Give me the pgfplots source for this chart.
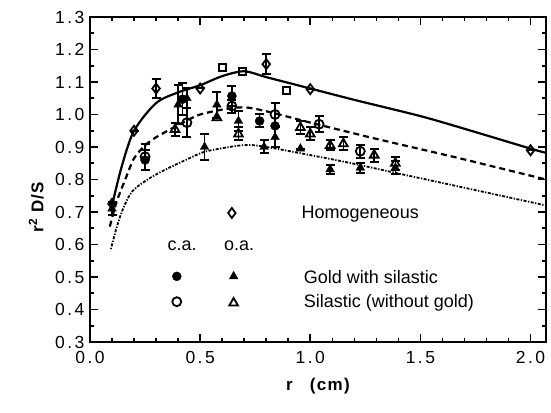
\documentclass[border=0pt]{standalone}
\usepackage{fontspec}
\setmainfont{Liberation Sans}
\usepackage{pgfplots}
\pgfplotsset{compat=1.18}
\begin{document}
\begin{tikzpicture}
\begin{axis}[name=ax,
  width=456pt, height=325pt, scale only axis,
  xmin=0, xmax=2.07, ymin=0.3, ymax=1.3,
  xtick={0,0.5,1,1.5,2}, minor x tick num=4,
  ytick={0.3,0.4,0.5,0.6,0.7,0.8,0.9,1.0,1.1,1.2,1.3}, minor y tick num=1,
  tick align=inside,
  major tick length=8pt, minor tick length=4pt,
  every tick/.style={line width=1.6pt, black},
  axis line style={line width=1.8pt},
  /pgf/number format/assume math mode=true,
  /pgf/number format/.cd, fixed, fixed zerofill, precision=1, /pgfplots/.cd,
  tick label style={font=\fontsize{17.5}{18}\selectfont\addfontfeature{LetterSpace=14}},
  xticklabel style={yshift=-6pt},
  yticklabel style={xshift=-2pt},
  xlabel={\bfseries r\quad(cm)},
  ylabel={\bfseries r\textsuperscript{2} D/S},
  label style={font=\fontsize{17}{18}\selectfont\addfontfeature{LetterSpace=8}},
  xlabel style={at={(axis description cs:0.5,-0.1)}, anchor=north},
  ylabel style={at={(axis description cs:-0.118,0.415)}, anchor=center},
  clip=false,
]
% fitted curves
\addplot[black, line width=2.2pt, smooth, tension=0.5] coordinates {
(0.1,0.72)(0.144,0.84)(0.2,0.95)(0.3,1.035)(0.4,1.068)(0.5,1.09)(0.6,1.118)(0.7,1.133)(0.8,1.115)(1.0,1.08)(1.2,1.045)(1.5,0.995)(1.71,0.954)(2.0,0.895)(2.07,0.882)};
\addplot[black, line width=2.2pt, dash pattern=on 6pt off 4pt, smooth, tension=0.5] coordinates {
(0.09,0.655)(0.12,0.73)(0.16,0.80)(0.2,0.865)(0.25,0.905)(0.3,0.93)(0.38,0.96)(0.45,0.985)(0.5,1.0)(0.6,1.015)(0.7,1.022)(0.8,1.01)(1.0,0.975)(1.09,0.96)(1.3,0.925)(1.636,0.872)(1.8,0.845)(2.07,0.80)};
\addplot[black, line width=1.8pt, dash pattern=on 1.3pt off 1.5pt on 3pt off 1.5pt, smooth, tension=0.5] coordinates {
(0.095,0.586)(0.12,0.65)(0.15,0.71)(0.19,0.762)(0.25,0.795)(0.326,0.825)(0.45,0.865)(0.53,0.887)(0.7,0.906)(0.8,0.9)(1.0,0.875)(1.18,0.851)(1.41,0.817)(1.636,0.784)(2.07,0.72)};
\pgfplotsset{eb/.style={error bars/.cd, y dir=both, y explicit,
   error bar style={line width=1.6pt, black},
   error mark options={rotate=90, mark size=4.5pt, line width=2pt, black}}}
% Homogeneous
\addplot[only marks, mark=diamond, mark size=5pt, mark options={line width=1.8pt, fill=white}, eb] coordinates {
(0.1,0.725) +- (0,0) (0.2,0.95) +- (0,0) (0.3,1.08) +- (0,0.03) (0.5,1.08) +- (0,0) (0.8,1.155) +- (0,0.03) (1.0,1.078) +- (0,0) (2.0,0.89) +- (0,0)};
\addplot[only marks, mark=square, mark size=3.5pt, mark options={line width=2pt, fill=white}] coordinates {
(0.6,1.145)(0.69,1.131)(0.894,1.073)};
% Gold with silastic, c.a.
\addplot[only marks, mark=*, mark size=4.5pt, mark options={black}, eb] coordinates {
(0.42,1.047) +- (0,0.05) (0.644,1.057) +- (0,0.03) (0.84,0.965) +- (0,0) (0.25,0.86) +- (0,0.03) (0.77,0.98) +- (0,0.02)};
% Gold with silastic, o.a.
\addplot[only marks, mark=triangle*, mark size=5pt, mark options={black}, eb] coordinates {
(0.1,0.71) +- (0,0.02) (0.4,1.03) +- (0,0.06) (0.44,1.05) +- (0,0.03) (0.576,1.03) +- (0,0.04) (0.674,0.98) +- (0,0.03) (0.52,0.9) +- (0,0.04) (0.84,0.93) +- (0,0.03) (0.955,0.895) +- (0,0) (0.79,0.9) +- (0,0.02) (1.09,0.831) +- (0,0.015) (1.227,0.836) +- (0,0.015) (1.386,0.836) +- (0,0.02)};
% Silastic, c.a.
\addplot[only marks, mark=o, mark size=4.5pt, mark options={line width=1.8pt, fill=white}, eb] coordinates {
(0.25,0.87) +- (0,0.04) (0.44,0.975) +- (0,0.045) (0.644,1.026) +- (0,0.02) (0.84,1.0) +- (0,0.035) (1.04,0.97) +- (0,0.025) (1.227,0.887) +- (0,0.02)};
% Silastic, o.a.
\addplot[only marks, mark=triangle, mark size=5pt, mark options={line width=1.8pt, fill=white}, eb] coordinates {
(0.386,0.954) +- (0,0.02) (0.576,0.99) +- (0,0) (0.674,0.94) +- (0,0.02) (0.955,0.96) +- (0,0.02) (1.0,0.94) +- (0,0.02) (1.09,0.905) +- (0,0.015) (1.15,0.91) +- (0,0.02) (1.29,0.875) +- (0,0.02) (1.386,0.85) +- (0,0.02)};
% legend symbols
\addplot[only marks, mark=diamond, mark size=5pt, mark options={line width=1.8pt}] coordinates {(0.644,0.697)};
\addplot[only marks, mark=*, mark size=4.5pt, mark options={black}] coordinates {(0.394,0.502)};
\addplot[only marks, mark=triangle*, mark size=5pt, mark options={black}] coordinates {(0.652,0.502)};
\addplot[only marks, mark=o, mark size=4.5pt, mark options={line width=1.8pt}] coordinates {(0.394,0.424)};
\addplot[only marks, mark=triangle, mark size=5pt, mark options={line width=1.8pt}] coordinates {(0.652,0.42)};
\begin{scope}[every node/.style={font=\fontsize{18}{19}\selectfont}]
\node[anchor=west] at (axis cs:0.945,0.692) {Homogeneous};
\node at (axis cs:0.418,0.596) {c.a.};
\node at (axis cs:0.677,0.596) {o.a.};
\node[anchor=west] at (axis cs:0.955,0.5) {Gold with silastic};
\node[anchor=west] at (axis cs:0.955,0.42) {Silastic (without gold)};
\end{scope}
\end{axis}
\pgfresetboundingbox
\path[use as bounding box] ([xshift=-90pt,yshift=-70pt]ax.south west) rectangle ([xshift=5pt,yshift=17pt]ax.north east);
\end{tikzpicture}
\end{document}
